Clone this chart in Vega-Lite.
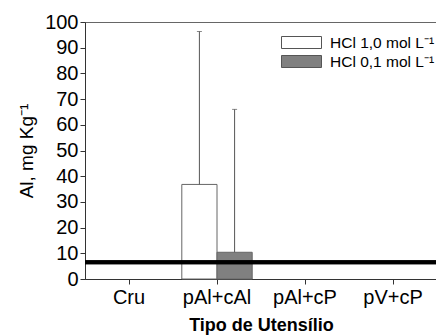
{
  "$schema": "https://vega.github.io/schema/vega-lite/v6.json",
  "width": 352,
  "height": 257,
  "autosize": "none",
  "padding": {"left": 85, "top": 22, "right": 0, "bottom": 56},
  "background": "white",
  "config": {
    "font": "Liberation Sans",
    "view": {"stroke": "#666", "strokeWidth": 1}
  },
  "data": {
    "values": [
      {"Utensilio": "pAl+cAl", "Serie": "HCl 1,0 mol L⁻¹", "valor": 36.8, "sup": 96.3},
      {"Utensilio": "pAl+cAl", "Serie": "HCl 0,1 mol L⁻¹", "valor": 10.4, "sup": 66}
    ]
  },
  "encoding": {
    "x": {
      "field": "Utensilio",
      "type": "nominal",
      "scale": {"domain": ["Cru", "pAl+cAl", "pAl+cP", "pV+cP"], "paddingInner": 0.2, "paddingOuter": 0.1},
      "axis": {
        "title": "Tipo de Utensílio",
        "titleFontSize": 18,
        "titleFontWeight": "bold",
        "titleColor": "black",
        "titlePadding": 9,
        "labelFontSize": 20,
        "labelColor": "black",
        "labelAngle": 0,
        "labelPadding": 3,
        "tickColor": "#333",
        "tickSize": 5,
        "domainColor": "#333"
      }
    },
    "xOffset": {
      "field": "Serie",
      "type": "nominal",
      "scale": {"domain": ["HCl 1,0 mol L⁻¹", "HCl 0,1 mol L⁻¹"], "paddingInner": 0, "paddingOuter": 0}
    }
  },
  "layer": [
    {
      "mark": {"type": "bar", "stroke": "#666", "strokeWidth": 1},
      "encoding": {
        "y": {
          "field": "valor",
          "type": "quantitative",
          "scale": {"domain": [0, 100], "nice": false, "zero": true},
          "axis": {
            "title": "Al, mg Kg⁻¹",
            "tickCount": 10,
            "labelOverlap": false,
            "labelSeparation": 0,
            "labelBound": false,
            "labelFlush": false,
            "labelFontSize": 20,
            "labelColor": "black",
            "labelPadding": 2,
            "tickSize": 5,
            "tickColor": "#333",
            "domainColor": "#333",
            "grid": false,
            "titleFontSize": 19,
            "titleFontWeight": "normal",
            "titleColor": "black",
            "titlePadding": 8
          }
        },
        "fill": {
          "field": "Serie",
          "type": "nominal",
          "scale": {"domain": ["HCl 1,0 mol L⁻¹", "HCl 0,1 mol L⁻¹"], "range": ["white", "#808080"]},
          "legend": {
            "title": null,
            "orient": "none",
            "legendX": 206,
            "legendY": 10,
            "padding": 0,
            "symbolType": "M-2,-0.6H2V0.6H-2Z",
            "symbolSize": 400,
            "symbolStrokeColor": "#555",
            "symbolStrokeWidth": 1,
            "labelFontSize": 15.5,
            "labelColor": "black",
            "labelOffset": 18,
            "rowPadding": 0
          }
        }
      }
    },
    {
      "mark": {"type": "rule", "color": "#555", "strokeWidth": 1},
      "encoding": {
        "y": {"field": "valor", "type": "quantitative"},
        "y2": {"field": "sup"}
      }
    },
    {
      "mark": {"type": "tick", "color": "#555", "thickness": 1, "size": 5},
      "encoding": {
        "y": {"field": "sup", "type": "quantitative"}
      }
    },
    {
      "mark": {"type": "rule", "color": "black", "strokeWidth": 4},
      "encoding": {
        "x": {"value": 0},
        "x2": {"value": "width"},
        "xOffset": {"value": 0},
        "y": {"datum": 6.5, "type": "quantitative"}
      }
    }
  ]
}
